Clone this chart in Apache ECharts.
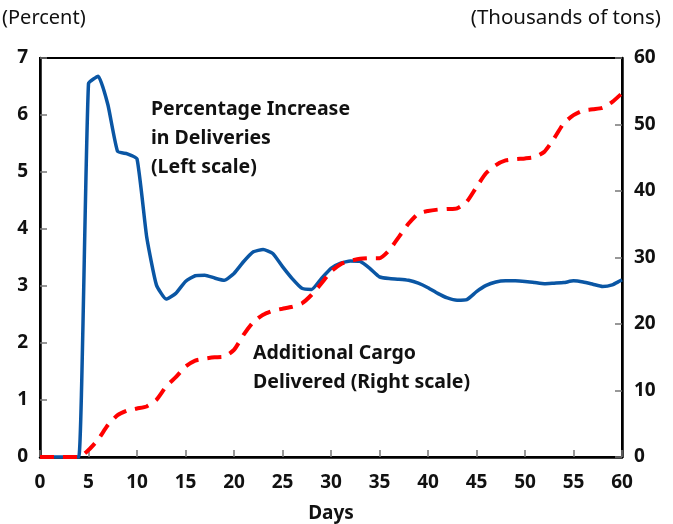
<!DOCTYPE html>
<html>
<head>
<meta charset="utf-8">
<script src="https://cdn.jsdelivr.net/npm/echarts@6/dist/echarts.min.js"></script>
<style>
  html, body { margin: 0; padding: 0; background: #fff; }
</style>
</head>
<body>
<div id="main" style="width: 673px; height: 524px"></div>
<script>
// days 0..60
const days = Array.from({ length: 61 }, (_, i) => i)

// Percentage increase in deliveries (left scale)
const pctIncrease = [
  0, 0, 0, 0, 0, 6.55, 6.68, 6.18, 5.36, 5.32,
  5.23, 3.86, 3.02, 2.77, 2.87, 3.08, 3.18, 3.19, 3.14, 3.1,
  3.22, 3.43, 3.6, 3.64, 3.57, 3.34, 3.13, 2.96, 2.94, 3.13,
  3.31, 3.4, 3.44, 3.43, 3.31, 3.16, 3.13, 3.12, 3.1, 3.05,
  2.97, 2.87, 2.79, 2.75, 2.76, 2.9, 3.01, 3.07, 3.09, 3.09,
  3.08, 3.06, 3.04, 3.05, 3.06, 3.09, 3.07, 3.03, 2.99, 3.02,
  3.11
]

// Additional cargo delivered, thousands of tons (right scale)
const cargo = [
  0, 0, 0, 0, 0, 1.05, 2.66, 4.8, 6.3, 7.0,
  7.3, 7.6, 8.6, 10.6, 12.0, 13.6, 14.5, 14.8, 15.0, 15.1,
  16.1, 18.4, 20.3, 21.4, 22.0, 22.3, 22.6, 23.1, 24.4, 26.1,
  27.9, 29.0, 29.5, 29.8, 29.9, 29.9, 31.1, 33.1, 35.1, 36.6,
  37.0, 37.2, 37.3, 37.4, 38.4, 40.6, 42.7, 43.9, 44.6, 44.8,
  44.9, 45.1, 45.9, 47.9, 50.2, 51.4, 52.1, 52.3, 52.5, 53.4,
  54.7
]

const xTicks = [0, 5, 10, 15, 20, 25, 30, 35, 40, 45, 50, 55, 60]
const leftTicks = [0, 1, 2, 3, 4, 5, 6, 7]
const rightTicks = [0, 10, 20, 30, 40, 50, 60]

const font = "'Noto Sans', sans-serif"
const labelStyle = { color: '#111', fontSize: 19, fontWeight: 'bold', fontFamily: font }
const tickStyle = { show: true, inside: true, length: 7, lineStyle: { color: '#777', width: 1.5 } }
const noteStyle = { color: '#111', fontSize: 19.5, fontWeight: 'bold', fontFamily: font, lineHeight: 29 }

const chart = echarts.init(document.getElementById('main'))
chart.setOption({
  animation: false,
  backgroundColor: '#fff',
  grid: {
    left: 40, right: 51, top: 58, bottom: 67,
    outerBoundsMode: 'none', containLabel: false,
    show: true, borderColor: '#000', borderWidth: 2
  },
  title: [
    { text: '(Percent)', left: 2, top: 8, padding: 0,
      textStyle: { color: '#111', fontSize: 20, fontWeight: 'normal', fontFamily: font } },
    { text: '(Thousands of tons)', right: 12, top: 8, padding: 0,
      textStyle: { color: '#111', fontSize: 20.5, fontWeight: 'normal', fontFamily: font } },
    { text: 'Percentage Increase\nin Deliveries\n(Left scale)', left: 151, top: 95, padding: 0, textStyle: noteStyle },
    { text: 'Additional Cargo\nDelivered (Right scale)', left: 253, top: 339, padding: 0, textStyle: noteStyle }
  ],
  xAxis: {
    type: 'value', min: 0, max: 60, interval: 5,
    name: 'Days', nameLocation: 'middle', nameGap: 47,
    nameTextStyle: labelStyle,
    axisLine: { show: true, lineStyle: { color: '#000', width: 2.5 } },
    axisTick: tickStyle,
    axisLabel: Object.assign({ margin: 16, formatter: v => xTicks.includes(v) ? String(v) : '' }, labelStyle),
    splitLine: { show: false }
  },
  yAxis: [
    {
      type: 'value', min: 0, max: 7, interval: 1, position: 'left',
      axisLine: { show: true, lineStyle: { color: '#000', width: 2.5 } },
      axisTick: tickStyle,
      axisLabel: Object.assign({ margin: 12, formatter: v => leftTicks.includes(v) ? String(v) : '' }, labelStyle),
      splitLine: { show: false }
    },
    {
      type: 'value', min: 0, max: 60, interval: 10, position: 'right',
      axisLine: { show: true, lineStyle: { color: '#000', width: 2.5 } },
      axisTick: tickStyle,
      axisLabel: Object.assign({ margin: 12, formatter: v => rightTicks.includes(v) ? String(v) : '' }, labelStyle),
      splitLine: { show: false }
    }
  ],
  series: [
    {
      name: 'Percentage Increase in Deliveries',
      type: 'line', yAxisIndex: 0,
      data: days.map((d, i) => [d, pctIncrease[i]]),
      showSymbol: false, smooth: 0.15,
      lineStyle: { color: '#0a56a4', width: 3.5 },
      z: 3
    },
    {
      name: 'Additional Cargo Delivered',
      type: 'line', yAxisIndex: 1,
      data: days.map((d, i) => [d, cargo[i]]),
      showSymbol: false, smooth: 0.2,
      lineStyle: { color: '#ff0000', width: 4, type: [14, 9] },
      z: 4
    }
  ]
})
</script>
</body>
</html>
